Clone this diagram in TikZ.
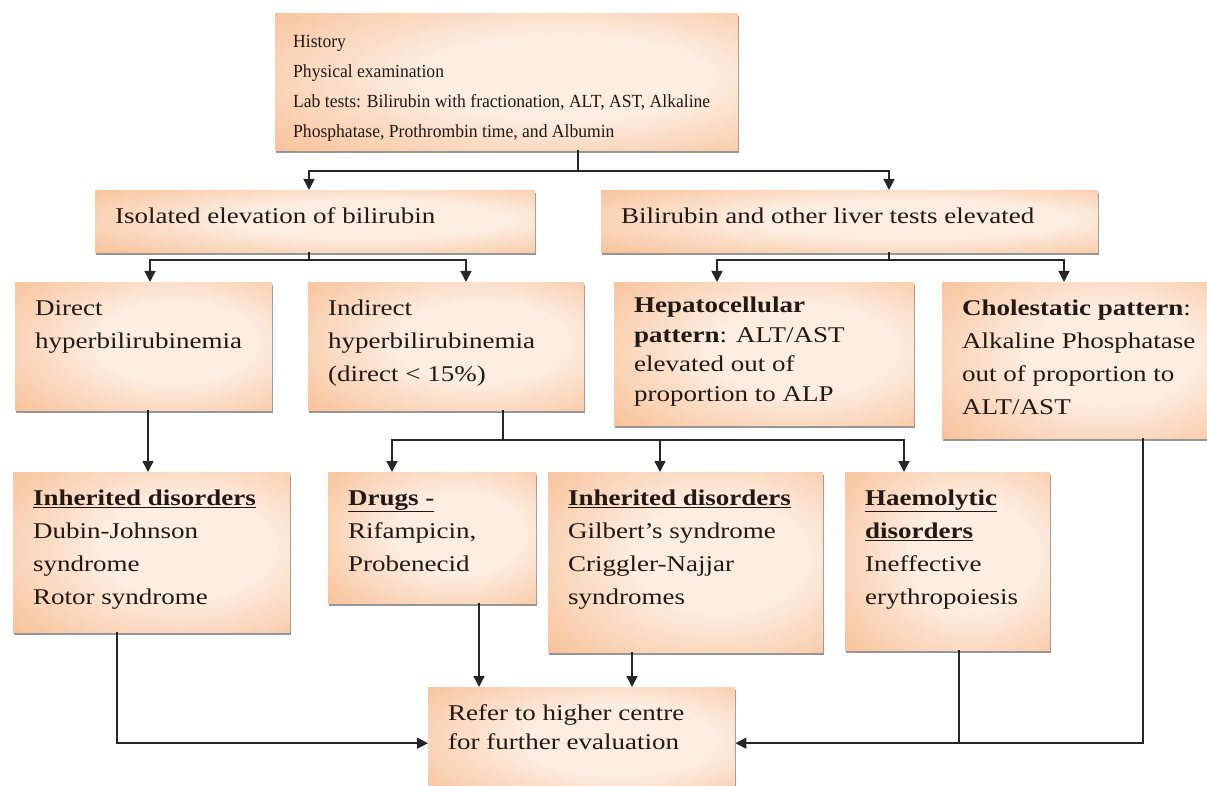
\documentclass[tikz,border=0pt]{standalone}
\usepackage{fontspec}
\setmainfont{Liberation Serif}[FakeStretch=1.2]
\newfontfamily\topfont{Liberation Serif}[FakeStretch=0.95]
\usepackage{tikz}
\usetikzlibrary{arrows.meta,shadows}
\usepackage{xcolor}

\definecolor{peachout}{RGB}{244,158,98}
\definecolor{peachmid}{RGB}{248,192,150}
\definecolor{peachin}{RGB}{253,236,224}
\definecolor{inkc}{RGB}{35,24,18}
\pgfdeclareradialshading{peach}{\pgfpoint{8bp}{2bp}}{color(0bp)=(peachin); color(16bp)=(peachin); color(40bp)=(peachmid); color(72bp)=(peachout)}

\newcommand{\boxtext}[3]{\makebox[#1pt][l]{\begin{minipage}[t][#2pt][t]{\dimexpr#1pt+40pt\relax}\raggedright\strut #3\end{minipage}}}

\begin{document}
\begin{tikzpicture}[x=1pt,y=-1pt,
		pbox/.style={anchor=north west,inner xsep=20pt,inner ysep=10pt,shade,shading=peach,text=inkc,font=\fontsize{22.5}{33}\selectfont,drop shadow={shadow xshift=1pt,shadow yshift=-3pt,fill=black!55,opacity=.75}},
		ln/.style={line width=1.5pt,draw=black!85},
		arr/.style={ln,-{Triangle[width=11pt,length=11pt]}}]
				\useasboundingbox (0,0) rectangle (1207,786);
				
				\node(1) at (275,13)[pbox,inner xsep=18pt,inner ysep=13pt,font=\topfont\fontsize{18.5}{30}\selectfont]{\boxtext{427}{111}{History\\Physical examination\\Lab tests: Bilirubin with fractionation, ALT, AST, Alkaline\\Phosphatase, Prothrombin time, and Albumin}};
				\node(2) at (95,190)[pbox]{\boxtext{400}{42}{Isolated elevation of bilirubin}};
				\node(3) at (601,190)[pbox]{\boxtext{457}{42}{Bilirubin and other liver tests elevated}};
				\node(4) at (15,282)[pbox]{\boxtext{217}{108}{Direct\\hyperbilirubinemia}};
				\node(5) at (308,282)[pbox]{\boxtext{236}{108}{Indirect\\hyperbilirubinemia\\(direct < 15\%)}};
				\node(6) at (614,282)[pbox,font=\fontsize{22.5}{29.5}\selectfont]{\boxtext{260}{123}{\textbf{Hepatocellular}\\\textbf{pattern}: ALT/AST\\elevated out of\\proportion to ALP}};
				\node(7) at (942,282)[pbox]{\boxtext{230}{136}{\textbf{Cholestatic pattern}:\\Alkaline Phosphatase\\out of proportion to\\ALT/AST}};
				\node(8) at (13,472)[pbox]{\boxtext{237}{140}{\underline{\textbf{Inherited disorders}}\\Dubin-Johnson\\syndrome\\Rotor syndrome}};
				\node(9) at (328,472)[pbox]{\boxtext{168}{111}{\underline{\textbf{Drugs -}}\\Rifampicin,\\Probenecid}};
				\node(10) at (548,472)[pbox]{\boxtext{235}{160}{\underline{\textbf{Inherited disorders}}\\Gilbert’s syndrome\\Criggler-Najjar\\syndromes}};
				\node(11) at (845,472)[pbox]{\boxtext{165}{158}{\underline{\textbf{Haemolytic}}\\\underline{\textbf{disorders}}\\Ineffective\\erythropoiesis}};
				\node(12) at (428,687)[pbox,inner ysep=13pt,font=\fontsize{22.5}{29}\selectfont]{\boxtext{267}{86}{Refer to higher centre\\for further evaluation}};
				
				% split points
				\coordinate(a) at (578,171);
				\coordinate(a1) at (309,171);
				\coordinate(a2) at (889,171);
				\coordinate(b) at (309,260);
				\coordinate(b1) at (150,260);
				\coordinate(b2) at (466,260);
				\coordinate(c) at (889,260);
				\coordinate(c1) at (717,260);
				\coordinate(c2) at (1064,260);
				\coordinate(d) at (148,440);
				\coordinate(e) at (503,440);
				\coordinate(e1) at (392,440);
				\coordinate(e2) at (660,440);
				\coordinate(e3) at (904,440);
				\coordinate(f) at (117,743);
				\coordinate(g) at (479,660);
				\coordinate(h) at (632,660);
				\coordinate(k) at (1143,743);
				\coordinate(m) at (959,743);
				
				\draw[ln] (1.south -| a) -- (a);
				\draw[arr] (a) -| (a1 |- 2.north);
				\draw[arr] (a) -| (a2 |- 3.north);
				
				\draw[ln] (2.south -| b) -- (b);
				\draw[arr] (b) -| (b1 |- 4.north);
				\draw[arr] (b) -| (b2 |- 5.north);
				\draw[ln] (3.south -| c) -- (c);
				\draw[arr] (c) -| (c1 |- 6.north);
				\draw[arr] (c) -| (c2 |- 7.north);
				
				\draw[arr] (4.south -| d) -- (d |- 8.north);
				\draw[ln] (5.south -| e) -- (e);
				\draw[arr] (e) -| (e1 |- 9.north);
				\draw[arr] (e) -| (e3 |- 11.north);
				\draw[arr] (e2) -- (e2 |- 10.north);
				
				\draw[arr] (8.south -| f) |- (12.west);
				\draw[arr] (9.south -| g) -- (g |- 12.north);
				\draw[arr] (10.south -| h) -- (h |- 12.north);
				\draw[ln] (11.south -| m) -- (m);
				\draw[arr] (7.south -| k) |- (12.east);
				
			\end{tikzpicture}
\end{document}
